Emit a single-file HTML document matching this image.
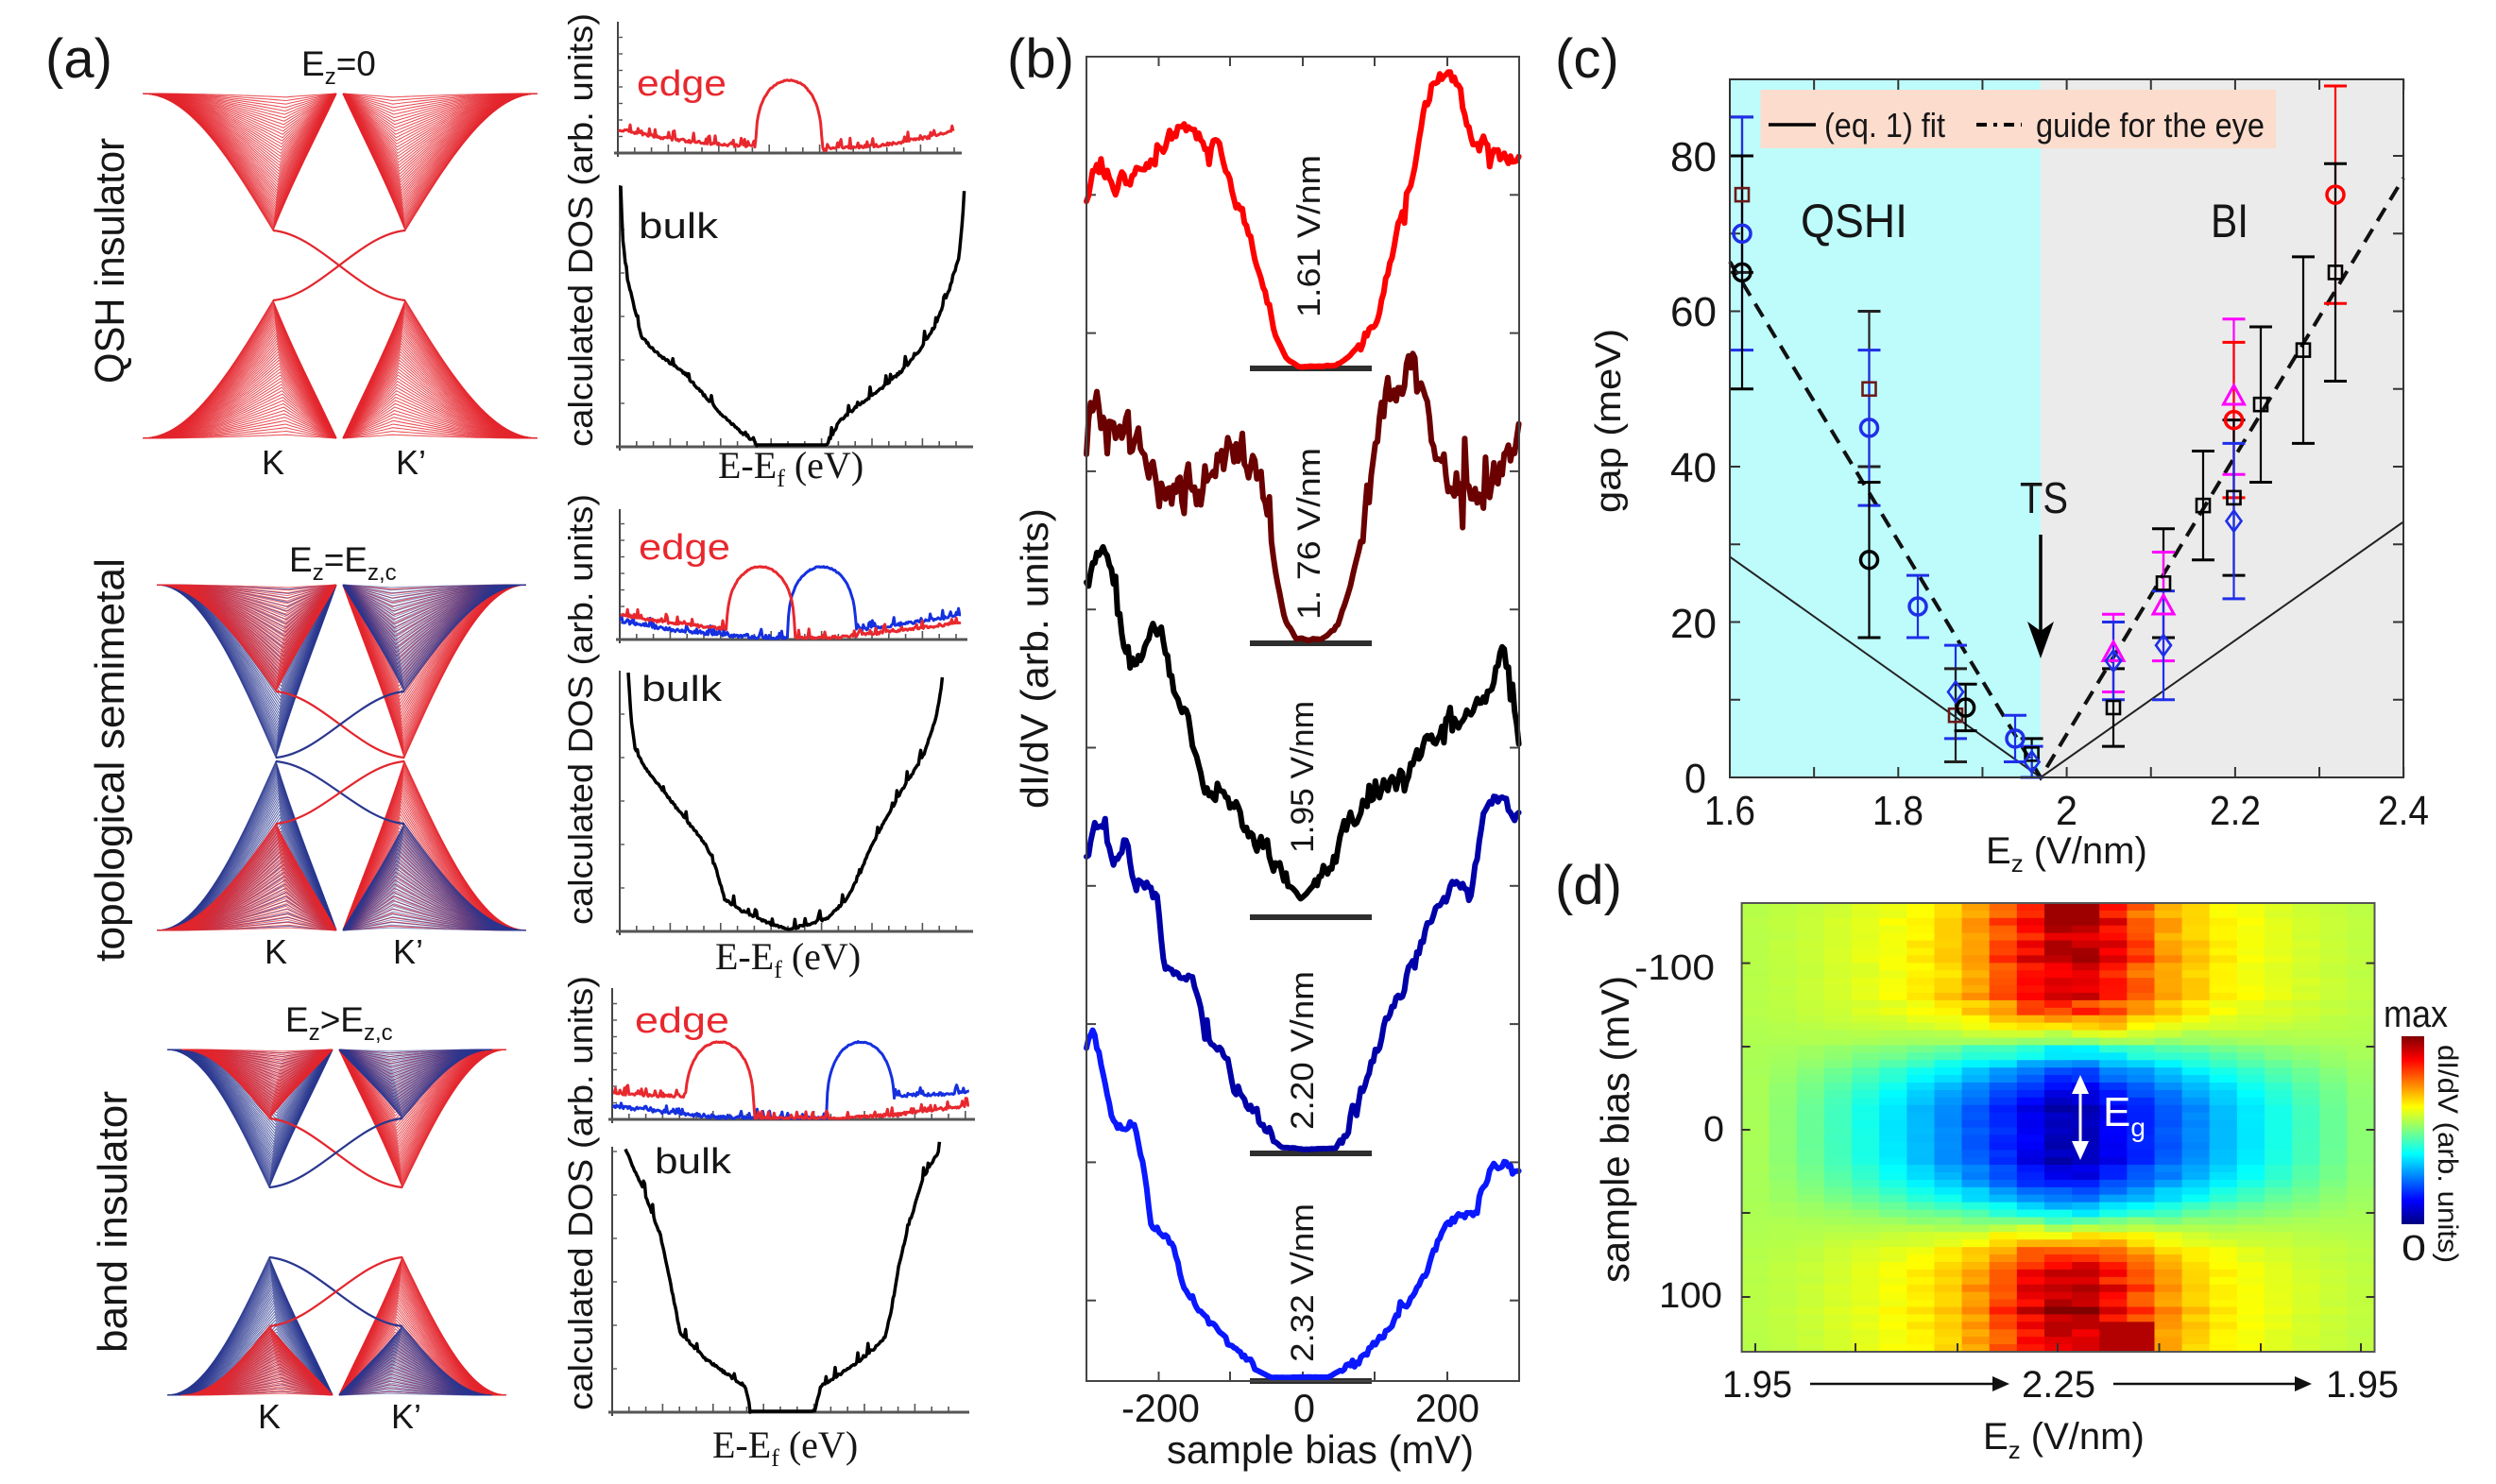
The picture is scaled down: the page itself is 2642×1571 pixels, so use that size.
<!DOCTYPE html>
<html><head><meta charset="utf-8"><title>figure</title>
<style>
html,body{margin:0;padding:0;background:#fff;width:2642px;height:1571px;overflow:hidden;}
svg{display:block;}
text{font-family:"Liberation Sans",sans-serif;fill:#161616;}
</style></head><body>
<svg id="s" xmlns="http://www.w3.org/2000/svg" width="2642" height="1571" viewBox="0 0 2642 1571">
<defs>
<linearGradient id="jet" x1="0" y1="1" x2="0" y2="0">
<stop offset="0" stop-color="#000080"/>
<stop offset="0.125" stop-color="#0000ff"/>
<stop offset="0.375" stop-color="#00ffff"/>
<stop offset="0.625" stop-color="#ffff00"/>
<stop offset="0.875" stop-color="#ff0000"/>
<stop offset="1" stop-color="#800000"/>
</linearGradient>
</defs>
<rect width="2642" height="1571" fill="#fff"/>
<!-- panel c backgrounds -->
<rect x="1831" y="84" width="329" height="739" fill="#befcfc"/>
<rect x="2160" y="84" width="384" height="739" fill="#ebebeb"/>
<rect x="1863.5" y="95" width="545.5" height="62" fill="#fcdccc"/>
<g id="gA"></g>
<g id="gDOS"></g>
<g id="gB"></g>
<g id="gC"></g>
<g id="gD"></g>

<!-- panel c box -->
<rect x="1831" y="84" width="713" height="739" fill="none" stroke="#333" stroke-width="2"/>
<!-- panel b box -->
<rect x="1150" y="60" width="458" height="1402" fill="none" stroke="#444" stroke-width="2"/>

<!-- ============ TEXT: panel a ============ -->
<text x="48" y="82" font-size="58">(a)</text>
<text x="319" y="80" font-size="37">E<tspan font-size="24" dy="9">z</tspan><tspan dy="-9">=0</tspan></text>
<text x="306" y="605" font-size="37">E<tspan font-size="24" dy="9">z</tspan><tspan dy="-9">=E</tspan><tspan font-size="24" dy="9">z,c</tspan></text>
<text x="302" y="1092" font-size="37">E<tspan font-size="24" dy="9">z</tspan><tspan dy="-9">&gt;E</tspan><tspan font-size="24" dy="9">z,c</tspan></text>

<text x="277" y="502" font-size="36">K</text>
<text x="419" y="502" font-size="36">K’</text>
<text x="280" y="1020" font-size="36">K</text>
<text x="416" y="1020" font-size="36">K’</text>
<text x="273" y="1512" font-size="36">K</text>
<text x="414" y="1512" font-size="36">K’</text>

<text transform="translate(131,406) rotate(-90)" font-size="44" fill="#333" textLength="260" lengthAdjust="spacingAndGlyphs">QSH insulator</text>
<text transform="translate(131,1018) rotate(-90)" font-size="44" fill="#333" textLength="427" lengthAdjust="spacingAndGlyphs">topological semimetal</text>
<text transform="translate(134,1432) rotate(-90)" font-size="44" fill="#333" textLength="277" lengthAdjust="spacingAndGlyphs">band insulator</text>

<text transform="translate(627,473) rotate(-90)" font-size="36" fill="#333" textLength="459" lengthAdjust="spacingAndGlyphs">calculated DOS (arb. units)</text>
<text transform="translate(627,979) rotate(-90)" font-size="36" fill="#333" textLength="456" lengthAdjust="spacingAndGlyphs">calculated DOS (arb. units)</text>
<text transform="translate(627,1493) rotate(-90)" font-size="36" fill="#333" textLength="460" lengthAdjust="spacingAndGlyphs">calculated DOS (arb. units)</text>

<text x="674" y="101" font-size="38" style="fill:#e8282e" textLength="95" lengthAdjust="spacingAndGlyphs">edge</text>
<text x="676" y="592" font-size="38" style="fill:#e8282e" textLength="97" lengthAdjust="spacingAndGlyphs">edge</text>
<text x="672" y="1093" font-size="38" style="fill:#e8282e" textLength="100" lengthAdjust="spacingAndGlyphs">edge</text>

<text x="676" y="252" font-size="38" fill="#222" textLength="84" lengthAdjust="spacingAndGlyphs">bulk</text>
<text x="679" y="742" font-size="38" fill="#222" textLength="85" lengthAdjust="spacingAndGlyphs">bulk</text>
<text x="693" y="1242" font-size="38" fill="#222" textLength="81" lengthAdjust="spacingAndGlyphs">bulk</text>

<text x="760" y="506" font-size="40" style="font-family:'Liberation Serif',serif" fill="#222">E-E<tspan font-size="26" dy="9">f</tspan><tspan dy="-9"> (eV)</tspan></text>
<text x="757" y="1026" font-size="40" style="font-family:'Liberation Serif',serif" fill="#222">E-E<tspan font-size="26" dy="9">f</tspan><tspan dy="-9"> (eV)</tspan></text>
<text x="754" y="1543" font-size="40" style="font-family:'Liberation Serif',serif" fill="#222">E-E<tspan font-size="26" dy="9">f</tspan><tspan dy="-9"> (eV)</tspan></text>

<!-- ============ TEXT: panel b ============ -->
<text x="1066" y="82" font-size="58">(b)</text>
<text transform="translate(1109,856) rotate(-90)" font-size="41" textLength="318" lengthAdjust="spacingAndGlyphs">dI/dV (arb. units)</text>
<text transform="translate(1397,336) rotate(-90)" font-size="34" fill="#222" textLength="172" lengthAdjust="spacingAndGlyphs">1.61 V/nm</text>
<text transform="translate(1397,656) rotate(-90)" font-size="34" fill="#222" textLength="182" lengthAdjust="spacingAndGlyphs">1. 76 V/nm</text>
<text transform="translate(1390,903) rotate(-90)" font-size="34" fill="#222" textLength="161" lengthAdjust="spacingAndGlyphs">1.95 V/nm</text>
<text transform="translate(1390,1196) rotate(-90)" font-size="34" fill="#222" textLength="168" lengthAdjust="spacingAndGlyphs">2.20 V/nm</text>
<text transform="translate(1390,1442) rotate(-90)" font-size="34" fill="#222" textLength="168" lengthAdjust="spacingAndGlyphs">2.32 V/nm</text>
<text x="1187" y="1505" font-size="42" textLength="83" lengthAdjust="spacingAndGlyphs">-200</text>
<text x="1369" y="1505" font-size="42" textLength="23" lengthAdjust="spacingAndGlyphs">0</text>
<text x="1498" y="1505" font-size="42" textLength="68" lengthAdjust="spacingAndGlyphs">200</text>
<text x="1235" y="1549" font-size="42" textLength="325" lengthAdjust="spacingAndGlyphs">sample bias (mV)</text>

<!-- ============ TEXT: panel c ============ -->
<text x="1646" y="82" font-size="58">(c)</text>
<line x1="1872" y1="132" x2="1922" y2="132" stroke="#000" stroke-width="3.5"/>
<text x="1931" y="145" font-size="36" textLength="128" lengthAdjust="spacingAndGlyphs">(eq. 1) fit</text>
<line x1="2092" y1="132" x2="2140" y2="132" stroke="#000" stroke-width="4" stroke-dasharray="11,7,4,7"/>
<text x="2155" y="145" font-size="36" textLength="242" lengthAdjust="spacingAndGlyphs">guide for the eye</text>
<text x="1906" y="251" font-size="50" textLength="113" lengthAdjust="spacingAndGlyphs">QSHI</text>
<text x="2340" y="251" font-size="50" textLength="40" lengthAdjust="spacingAndGlyphs">BI</text>
<text x="2138" y="543" font-size="46" textLength="51" lengthAdjust="spacingAndGlyphs">TS</text>
<line x1="2160" y1="566" x2="2160" y2="672" stroke="#000" stroke-width="3.5"/>
<polygon points="2160,697 2146,658 2160,668 2174,658" fill="#000"/>
<text x="1768" y="181" font-size="44" textLength="49" lengthAdjust="spacingAndGlyphs">80</text>
<text x="1768" y="345" font-size="44" textLength="49" lengthAdjust="spacingAndGlyphs">60</text>
<text x="1768" y="510" font-size="44" textLength="49" lengthAdjust="spacingAndGlyphs">40</text>
<text x="1768" y="675" font-size="44" textLength="49" lengthAdjust="spacingAndGlyphs">20</text>
<text x="1783" y="839" font-size="44" textLength="23" lengthAdjust="spacingAndGlyphs">0</text>
<text x="1804" y="873" font-size="44" textLength="54" lengthAdjust="spacingAndGlyphs">1.6</text>
<text x="1982" y="873" font-size="44" textLength="54" lengthAdjust="spacingAndGlyphs">1.8</text>
<text x="2176" y="873" font-size="44" textLength="23" lengthAdjust="spacingAndGlyphs">2</text>
<text x="2339" y="873" font-size="44" textLength="54" lengthAdjust="spacingAndGlyphs">2.2</text>
<text x="2517" y="873" font-size="44" textLength="54" lengthAdjust="spacingAndGlyphs">2.4</text>
<text transform="translate(1715,543) rotate(-90)" font-size="38" textLength="195" lengthAdjust="spacingAndGlyphs">gap (meV)</text>
<text x="2102" y="914" font-size="40">E<tspan font-size="26" dy="9">z</tspan><tspan dy="-9"> (V/nm)</tspan></text>

<!-- ============ TEXT: panel d ============ -->
<text x="1646" y="957" font-size="58">(d)</text>
<text x="1730" y="1037" font-size="38" textLength="85" lengthAdjust="spacingAndGlyphs">-100</text>
<text x="1803" y="1208" font-size="38" textLength="22" lengthAdjust="spacingAndGlyphs">0</text>
<text x="1756" y="1384" font-size="38" textLength="67" lengthAdjust="spacingAndGlyphs">100</text>
<text transform="translate(1724,1358) rotate(-90)" font-size="42" textLength="325" lengthAdjust="spacingAndGlyphs">sample bias (mV)</text>
<text x="1823" y="1479" font-size="40" fill="#222" textLength="74" lengthAdjust="spacingAndGlyphs">1.95</text>
<text x="2140" y="1479" font-size="40" fill="#222" textLength="78" lengthAdjust="spacingAndGlyphs">2.25</text>
<text x="2462" y="1479" font-size="40" fill="#222" textLength="77" lengthAdjust="spacingAndGlyphs">1.95</text>
<line x1="1916" y1="1465" x2="2112" y2="1465" stroke="#111" stroke-width="2.5"/>
<polygon points="2127,1465 2109,1457 2109,1473" fill="#111"/>
<line x1="2237" y1="1465" x2="2432" y2="1465" stroke="#111" stroke-width="2.5"/>
<polygon points="2447,1465 2429,1457 2429,1473" fill="#111"/>
<text x="2099" y="1534" font-size="40" fill="#222">E<tspan font-size="26" dy="10">z</tspan><tspan dy="-10"> (V/nm)</tspan></text>
<rect x="2542" y="1097" width="24" height="199" fill="url(#jet)"/>
<text x="2523" y="1087" font-size="40" fill="#222" textLength="68" lengthAdjust="spacingAndGlyphs">max</text>
<text x="2542" y="1334" font-size="38" fill="#222" textLength="26" lengthAdjust="spacingAndGlyphs">0</text>
<text transform="translate(2581,1106) rotate(90)" font-size="30" fill="#222" textLength="231" lengthAdjust="spacingAndGlyphs">dI/dV (arb. units)</text>
<g id="gTop"></g>
<text x="2226" y="1192" font-size="44" style="fill:#fff">E<tspan font-size="28" dy="11">g</tspan></text>
</svg>
<script>
(function(){
var NS='http://www.w3.org/2000/svg';
var svg=document.getElementById('s');
function el(t,a,p){var e=document.createElementNS(NS,t);for(var k in a)e.setAttribute(k,a[k]);(p||svg).appendChild(e);return e;}
var S=123456789;
function rnd(){S^=S<<13;S^=S>>>17;S^=S<<5;return (S>>>0)/4294967296;}
function interp(p,x){if(x<=p[0][0])return p[0][1];for(var i=0;i<p.length-1;i++){if(x<=p[i+1][0]){var t=(x-p[i][0])/(p[i+1][0]-p[i][0]);return p[i][1]+t*(p[i+1][1]-p[i][1]);}}return p[p.length-1][1];}
var gA=document.getElementById('gA'),gDOS=document.getElementById('gDOS'),gB=document.getElementById('gB'),gC=document.getElementById('gC'),gD=document.getElementById('gD'),gTop=document.getElementById('gTop');

/* ---------- band fans (panel a) ---------- */
var RED='#e3262d',BLUE='#2a378f';
function fan(xo,xt,xi,y0,yt,col,op){
  var D=yt-y0,N=52;
  for(var n=0;n<N;n++){
    var f=1-Math.pow(n/N,1.35);
    var xtn=xt+(xi-xt)*0.22*(1-f);
    var d='',i,t,x,y;
    for(i=0;i<=30;i++){t=i/30;x=xo+(xtn-xo)*t;y=y0+D*f*(1-Math.cos(Math.PI/2*t));d+=(i?'L':'M')+x.toFixed(1)+','+y.toFixed(1);}
    for(i=1;i<=10;i++){t=i/10;x=xtn+(xi-xtn)*t;y=y0+D*f*(1-t)*(1-0.15*t*(1-t));d+='L'+x.toFixed(1)+','+y.toFixed(1);}
    el('path',{d:d,fill:'none',stroke:col,'stroke-width':1.05,'stroke-opacity':op},gA);
  }
}
function scurve(x1,y1,x2,y2,col){
  var dx=x2-x1,dy=y2-y1;
  el('path',{d:'M'+x1+','+y1+' C'+(x1+0.35*dx)+','+(y1+0.06*dy)+' '+(x2-0.35*dx)+','+(y2-0.06*dy)+' '+x2+','+y2,fill:'none',stroke:col,'stroke-width':2.2},gA);
}
// a1
fan(151,289,356,99,244,RED,0.8);fan(569,429,363,99,244,RED,0.8);
fan(151,289,356,464,318,RED,0.8);fan(569,429,363,464,318,RED,0.8);
scurve(289,244,429,318,RED);scurve(429,244,289,318,RED);
// a2 (deep first, shallow on top)
fan(166,292,356,619,802,BLUE,0.75);fan(166,292,356,619,732,RED,0.7);
fan(557,428,363,619,802,RED,0.8);fan(557,428,363,619,732,BLUE,0.55);
fan(166,292,356,985,806,BLUE,0.75);fan(166,292,356,985,872,RED,0.7);
fan(557,428,363,985,806,RED,0.8);fan(557,428,363,985,872,BLUE,0.55);
scurve(292,732,428,802,RED);scurve(428,732,292,802,BLUE);
scurve(292,806,428,872,BLUE);scurve(428,806,292,872,RED);
// a3
fan(177,285,352,1111,1257,BLUE,0.75);fan(192,285,352,1111,1184,RED,0.7);
fan(536,426,359,1111,1257,RED,0.8);fan(521,426,359,1111,1184,BLUE,0.55);
fan(177,285,352,1477,1331,BLUE,0.75);fan(192,285,352,1477,1404,RED,0.7);
fan(536,426,359,1477,1331,RED,0.8);fan(521,426,359,1477,1404,BLUE,0.55);
scurve(285,1184,426,1257,RED);scurve(426,1184,285,1257,BLUE);
scurve(285,1331,426,1404,BLUE);scurve(426,1331,285,1404,RED);

/* ---------- DOS plots ---------- */
function dosAxes(x0,x1,yb,yt,ys){
  el('line',{x1:x0,y1:yt,x2:x0,y2:yb+4,stroke:'#444','stroke-width':2},gDOS);
  el('line',{x1:x0-4,y1:yb,x2:x1+6,y2:yb,stroke:'#555','stroke-width':3},gDOS);
  for(var x=x0+17.8;x<=x1+1;x+=17.8)el('line',{x1:x,y1:yb,x2:x,y2:yb-(Math.round((x-x0)/17.8)%3==0?9:6),stroke:'#555','stroke-width':1.6},gDOS);
  for(var y=yb-ys;y>yt+2;y-=ys)el('line',{x1:x0,y1:y,x2:x0+5,y2:y,stroke:'#555','stroke-width':1.4},gDOS);
}
dosAxes(654,1012,162,23,17.5);dosAxes(656,1024,473,196,46);
dosAxes(656,1018,677,539,17.5);dosAxes(656,1024,986,710,46);
dosAxes(648,1026,1185,1046,17.5);dosAxes(648,1020,1495,1214,46);
function pathFrom(x0,x1,step,fy,col,sw,g){
  var d='',first=true;
  for(var x=x0;x<=x1+0.001;x+=step){var y=fy(x);d+=(first?'M':'L')+x.toFixed(1)+','+y.toFixed(1);first=false;}
  el('path',{d:d,fill:'none',stroke:col,'stroke-width':sw,'stroke-linejoin':'round'},g||gDOS);
}
function bump(x,xc,hw,top,base){var u=(x-xc)/hw;if(Math.abs(u)>=1)return base;return base-(base-top)*Math.pow(1-u*u,0.35);}
function en(a){return (rnd()<0.2?-rnd()*a:0)+(rnd()-0.5)*a*0.35;}
function edge(L,xs,xe,xc,top,base,R,col,a){
  return function(x){
    if(x<xs)return Math.min(base,interp(L,x)+en(a));
    if(x<=xe)return bump(x,xc,(xe-xs)/2,top,base)+(rnd()-0.5)*1.2;
    return Math.min(base,interp(R,x)+en(a));
  };
}
var ER='#e8282e',EB='#1530e0';
pathFrom(655,1010,1.2,edge([[655,137],[700,146],[760,153],[799,155]],800,870,835,85,161,[[871,158],[930,154],[980,146],[1010,138]],ER,9),ER,3);
pathFrom(657,1018,1.2,edge([[657,658],[720,668],[790,674],[833,676]],834,906,870,600,676,[[907,667],[960,660],[1018,651]],EB,9),EB,3);
pathFrom(657,1018,1.2,edge([[657,651],[700,658],[768,666]],769,841,805,600,676,[[842,676],[880,675],[950,668],[1018,659]],ER,9),ER,3);
pathFrom(649,1026,1.2,edge([[649,1171],[700,1177],[760,1183],[874,1184]],875,947,911,1103,1184,[[948,1160],[1000,1158],[1026,1156]],EB,9),EB,3);
pathFrom(649,1026,1.2,edge([[649,1157],[700,1160],[724,1160]],725,798,761.5,1103,1184,[[799,1184],[880,1184],[950,1180],[1026,1170]],ER,9),ER,3);
function bulk(P,g0,g1){
  return function(x){var y=interp(P,x);if(x>g0&&x<g1)return y;var n=(rnd()<0.1?-rnd()*11:0)+(rnd()-0.5)*2.5;return y+n;};
}
var B1=[[657,197],[659,250],[663,290],[670,320],[679,357],[700,378],[720,391],[745,418],[767,442],[785,458],[797,466],[801,471],[876,471],[880,462],[889,445],[910,428],[937,408],[955,392],[971,374],[990,345],[1005,306],[1015,272],[1019,230],[1021,196]];
var B2=[[665,712],[668,760],[672,792],[682,812],[693,826],[720,860],[747,894],[758,920],[767,952],[785,964],[801,972],[820,980],[835,984],[850,980],[876,972],[896,952],[910,925],[923,894],[951,843],[978,799],[991,758],[996,730],[998,712]];
var B3=[[662,1216],[670,1235],[679,1255],[699,1307],[710,1360],[720,1411],[747,1439],[770,1455],[788,1467],[792,1480],[794,1494],[862,1494],[866,1480],[869,1467],[903,1446],[925,1428],[937,1415],[945,1380],[951,1342],[961,1300],[978,1245],[990,1225],[995,1216]];
pathFrom(657,1021,1.2,bulk(B1,802,875),'#000',3.5);
pathFrom(665,998,1.2,bulk(B2,830,840),'#000',3.5);
pathFrom(662,995,1.2,bulk(B3,795,861),'#000',3.5);

/* ---------- panel b ---------- */
var tx=[1226.5,1302,1379,1455,1532];
tx.forEach(function(x){el('line',{x1:x,y1:60,x2:x,y2:70,stroke:'#444','stroke-width':2},gB);el('line',{x1:x,y1:1462,x2:x,y2:1452,stroke:'#444','stroke-width':2},gB);});
for(var k=1;k<=9;k++){var y=60+146.3*k;el('line',{x1:1150,y1:y,x2:1160,y2:y,stroke:'#444','stroke-width':2},gB);el('line',{x1:1608,y1:y,x2:1598,y2:y,stroke:'#444','stroke-width':2},gB);}
function bcurve(pts,amp,q0,q1,col){
  var d='',ar=0,first=true;
  for(var x=1150;x<=1608;x+=2.2){
    var quiet=(x>q0&&x<q1);var a=quiet?amp*0.05:amp;
    ar=ar*0.55+(rnd()-0.5)*a*0.9;
    var sp=(rnd()<0.07)?(rnd()-0.5)*a*2.2:0;
    var y=interp(pts,x)+ar+sp;
    d+=(first?'M':'L')+x.toFixed(1)+','+y.toFixed(1);first=false;
  }
  el('path',{d:d,fill:'none',stroke:col,'stroke-width':6,'stroke-linejoin':'round','stroke-linecap':'round'},gB);
}
[390,681,971,1221,1462].forEach(function(y){el('line',{x1:1323,y1:y,x2:1452,y2:y,stroke:'#2e2e2e','stroke-width':6},gB);});
bcurve([[1150,205],[1158,185],[1168,178],[1180,195],[1195,190],[1210,175],[1225,160],[1240,145],[1254,132],[1270,145],[1285,155],[1295,175],[1308,205],[1320,245],[1335,300],[1350,355],[1362,380],[1375,388],[1415,387],[1428,378],[1448,355],[1460,325],[1470,280],[1482,230],[1495,180],[1505,130],[1515,95],[1530,75],[1545,95],[1556,145],[1575,155],[1595,168],[1608,172]],18,1350,1440,'#ff0000');
bcurve([[1150,480],[1158,440],[1170,445],[1190,450],[1205,480],[1225,515],[1250,525],[1270,515],[1290,490],[1305,470],[1325,475],[1332,490],[1340,555],[1350,610],[1360,655],[1372,676],[1400,676],[1415,665],[1428,625],[1440,575],[1452,510],[1462,445],[1470,415],[1480,405],[1498,398],[1510,460],[1530,495],[1550,510],[1570,515],[1590,490],[1608,470]],45,1345,1440,'#6a0000');
bcurve([[1150,623],[1160,600],[1171,578],[1183,650],[1195,697],[1214,682],[1229,667],[1241,728],[1260,775],[1275,826],[1291,836],[1306,856],[1321,876],[1337,897],[1360,927],[1377,952],[1395,932],[1414,902],[1429,876],[1445,851],[1464,831],[1483,830],[1500,805],[1521,775],[1540,765],[1556,754],[1575,740],[1591,690],[1600,730],[1608,780]],22,1365,1390,'#000000');
bcurve([[1150,902],[1158,880],[1168,872],[1178,920],[1190,885],[1202,935],[1215,930],[1225,952],[1233,1020],[1250,1028],[1262,1035],[1272,1079],[1290,1110],[1306,1145],[1322,1165],[1340,1195],[1356,1214],[1380,1217],[1414,1215],[1425,1195],[1437,1160],[1450,1135],[1464,1094],[1483,1049],[1495,1020],[1506,993],[1518,968],[1529,947],[1545,935],[1556,950],[1565,900],[1571,851],[1583,840],[1595,855],[1608,870]],16,1350,1420,'#0000a8');
bcurve([[1150,1110],[1156,1089],[1168,1135],[1175,1175],[1183,1196],[1200,1186],[1210,1236],[1218,1292],[1241,1317],[1252,1358],[1275,1393],[1298,1424],[1329,1449],[1345,1458],[1406,1458],[1420,1450],[1445,1434],[1465,1410],[1483,1388],[1510,1348],[1530,1300],[1541,1287],[1560,1282],[1579,1236],[1595,1232],[1608,1236]],9,1330,1420,'#0a18ff');

/* ---------- panel c ---------- */
for(var i=0;i<=8;i++){var x=1831+i*89.15;el('line',{x1:x,y1:823,x2:x,y2:812,stroke:'#333','stroke-width':2},gC);el('line',{x1:x,y1:84,x2:x,y2:95,stroke:'#333','stroke-width':2},gC);}
for(var m=10;m<=80;m+=10){var yy=823-m*8.225;el('line',{x1:1831,y1:yy,x2:1842,y2:yy,stroke:'#333','stroke-width':2},gC);el('line',{x1:2544,y1:yy,x2:2533,y2:yy,stroke:'#333','stroke-width':2},gC);}
el('polyline',{points:'1831,589.4 2160,823 2544,552.4',fill:'none',stroke:'#222','stroke-width':2},gC);
el('polyline',{points:'1831,277 2160,823 2544,188.5',fill:'none',stroke:'#111','stroke-width':4,'stroke-dasharray':'16,10'},gC);
function Y(m){return 823-m*8.225;}
var B='#1f2fe8',K='#000',DR='#6b1a1a',M='#ff00ff',RR='#ff0000';
var data=[
[1844,75,65,85,'s',DR,'#222'],[1844,70,55,85,'o',B,B],[1844,65,50,80,'o',K,K],
[1978.5,50,40,60,'s',DR,'#222'],[1978.5,45,35,55,'o',B,B],[1978.5,28,18,38,'o',K,K],
[2030,22,18,26,'o',B,B],[2070,11,5,17,'d',B,B],[2070,8,2,14,'s',DR,'#222'],[2080.6,9,6,12,'o',K,K],
[2133,5,2,8,'o',B,B],[2150.6,3,0,5,'s',K,K],[2150.6,2,0,4,'d',B,B],
[2237,9,4,14,'s',K,K],[2237,16,11,21,'^',M,M],[2237,15,10,20,'d',B,B],
[2290,25,18,32,'s',K,K],[2290,22,15,29,'^',M,M],[2290,17,10,24,'d',B,B],
[2332,35,28,42,'s',K,K],
[2364.5,49,39,59,'^',M,M],[2364.5,46,36,56,'o',RR,RR],[2364.5,36,26,46,'s',K,K],[2364.5,33,23,43,'d',B,B],
[2393,48,38,58,'s',K,K],[2438,55,43,67,'s',K,K],[2472,75,61,89,'o',RR,RR],[2472,65,51,79,'s',K,K]];
data.forEach(function(p){
  var x=p[0],y=Y(p[1]),lo=Y(p[2]),hi=Y(p[3]),ec=p[6];
  el('line',{x1:x,y1:lo,x2:x,y2:hi,stroke:ec,'stroke-width':2.2},gC);
  el('line',{x1:x-12,y1:lo,x2:x+12,y2:lo,stroke:ec,'stroke-width':3},gC);
  el('line',{x1:x-12,y1:hi,x2:x+12,y2:hi,stroke:ec,'stroke-width':3},gC);
});
data.forEach(function(p){
  var x=p[0],y=Y(p[1]),c=p[5];
  if(p[4]=='o')el('circle',{cx:x,cy:y,r:9,fill:'none',stroke:c,'stroke-width':3.5},gC);
  else if(p[4]=='s')el('rect',{x:x-7,y:y-7,width:14,height:14,fill:'none',stroke:c,'stroke-width':2.6},gC);
  else if(p[4]=='d')el('polygon',{points:(x)+','+(y-11)+' '+(x+8)+','+y+' '+x+','+(y+11)+' '+(x-8)+','+y,fill:'none',stroke:c,'stroke-width':2.6},gC);
  else el('polygon',{points:x+','+(y-12)+' '+(x+11)+','+(y+8)+' '+(x-11)+','+(y+8),fill:'none',stroke:c,'stroke-width':3},gC);
});

/* ---------- panel d heatmap ---------- */
function jet(v){v=Math.max(0,Math.min(1,v));function cl(t){return Math.max(0,Math.min(1,t));}
 var r=cl(Math.min(4*v-1.5,-4*v+4.5)),g=cl(Math.min(4*v-0.5,-4*v+3.5)),b=cl(Math.min(4*v+0.5,-4*v+2.5));
 return 'rgb('+Math.round(r*255)+','+Math.round(g*255)+','+Math.round(b*255)+')';}
var hx0=1843.6,hx1=2513.5,hy0=956,hy1=1431,NC=23,NR=60;
var cw=(hx1-hx0)/NC,rh=(hy1-hy0)/NR;
var rowN=[];for(var r=0;r<NR;r++)rowN.push(rnd()-0.5);
for(var c=0;c<NC;c++){
  var d=Math.min(1,Math.abs(c-11.5)/11.5);
  var v0=0.54-0.51*Math.pow(1-d,1.2);
  var A=0.41*(0.6*Math.exp(-Math.pow(d/0.25,2))+0.4*Math.exp(-Math.pow(d/0.65,2)));
  var w=40+12*(1-d);
  for(var r=0;r<NR;r++){
    var b=-136+(r+0.5)*268/NR;
    var gg=Math.exp(-Math.pow(Math.abs(b)/w,3));
    var hb=Math.min(1,Math.max(0,(Math.abs(b)-35)/45));
    var v=0.54-(0.54-v0)*gg+(1-gg)*A*hb;
    v+=(rowN[r]*0.8+(rnd()-0.5)*0.5)*0.35*A*(1-gg*0.5);
    if(r<3&&c>=11&&c<=12)v=Math.max(v,0.97);
    if(r>=NR-4&&(c==13||c==14))v=Math.max(v,0.95);
    el('rect',{x:(hx0+c*cw).toFixed(2),y:(hy0+r*rh).toFixed(2),width:(cw+0.6).toFixed(2),height:(rh+0.6).toFixed(2),fill:jet(v)},gD);
  }
}
el('rect',{x:hx0,y:hy0,width:hx1-hx0,height:hy1-hy0,fill:'none',stroke:'#555','stroke-width':2},gD);
[1019.6,1108,1196,1284,1373].forEach(function(y){el('line',{x1:hx0,y1:y,x2:hx0+9,y2:y,stroke:'#333','stroke-width':2},gD);el('line',{x1:hx1,y1:y,x2:hx1-9,y2:y,stroke:'#333','stroke-width':2},gD);});
[1858,1964,2072,2178,2285.5,2393,2499].forEach(function(x){el('line',{x1:x,y1:hy1,x2:x,y2:hy1-9,stroke:'#333','stroke-width':2},gD);});
el('line',{x1:2202,y1:1150,x2:2202,y2:1216,stroke:'#fff','stroke-width':3},gTop);
el('polygon',{points:'2202,1138 2193,1158 2211,1158',fill:'#fff'},gTop);
el('polygon',{points:'2202,1228 2193,1208 2211,1208',fill:'#fff'},gTop);
})();
</script>
</body></html>
